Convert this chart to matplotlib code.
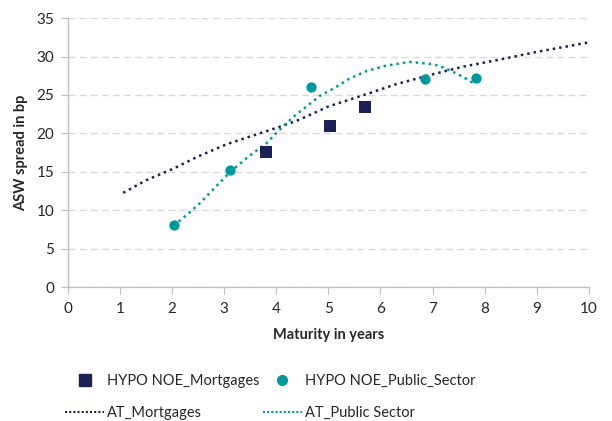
import matplotlib
matplotlib.use("Agg")
import matplotlib.pyplot as plt
from matplotlib.lines import Line2D

plt.rcParams['font.family'] = ['Lato', 'DejaVu Sans']

# HYPO NOE data points
mort_x = [3.81, 5.04, 5.71]
mort_y = [17.55, 21.0, 23.4]
pub_x = [2.03, 3.12, 4.66, 6.86, 7.84]
pub_y = [8.05, 15.2, 26.05, 27.05, 27.2]

# AT curves
at_mort_x = [1.06, 1.5, 2.02, 2.5, 3.05, 3.5, 4.13, 4.45, 5.0, 5.73, 6.3, 7.01, 7.6, 8.29, 9.0, 9.57, 9.97]
at_mort_y = [12.26, 13.9, 15.4, 17.0, 18.6, 19.6, 21.0, 21.8, 23.5, 25.1, 26.4, 27.7, 28.7, 29.6, 30.6, 31.3, 31.8]
at_pub_x = [2.03, 2.3, 2.53, 2.8, 3.12, 3.45, 3.81, 4.05, 4.32, 4.6, 4.84, 5.09, 5.4, 5.73, 6.1, 6.56, 7.01, 7.2, 7.4, 7.6, 7.79]
at_pub_y = [8.0, 9.5, 10.9, 12.8, 15.0, 16.9, 18.7, 20.4, 22.1, 23.6, 24.9, 25.8, 27.1, 28.1, 28.8, 29.3, 29.0, 28.6, 28.0, 27.3, 26.5]

xticks = list(range(0, 11))
yticks = list(range(0, 36, 5))

navy = '#1B2157'
teal = '#00999B'
grid_c = '#D9D9D9'
spine_c = '#BFBFBF'
txt_c = '#262626'

fig = plt.figure(figsize=(6.12, 4.21), dpi=100)
ax = fig.add_axes([0.111, 0.318, 0.851, 0.639])

ax.plot(at_mort_x, at_mort_y, linestyle=(0, (1, 1.6)), color=navy, lw=1.8, zorder=2)
ax.plot(at_pub_x, at_pub_y, linestyle=(0, (1, 1.6)), color=teal, lw=1.8, zorder=2)
ax.scatter(mort_x, mort_y, marker='s', s=70, color=navy, zorder=3, linewidths=0)
ax.scatter(pub_x, pub_y, marker='o', s=55, color=teal, zorder=3, linewidths=0)

ax.set_xlim(0, 10)
ax.set_ylim(0, 35)
ax.set_xticks(xticks)
ax.set_yticks(yticks)
ax.yaxis.grid(True, linestyle=(0, (5, 3)), color=grid_c, lw=1.0)
ax.set_axisbelow(True)
for s in ['top', 'right']:
    ax.spines[s].set_visible(False)
for s in ['left', 'bottom']:
    ax.spines[s].set_color(spine_c)
    ax.spines[s].set_linewidth(1.0)
ax.tick_params(axis='x', direction='out', length=5, color=spine_c, labelsize=11, pad=6, labelcolor=txt_c)
ax.tick_params(axis='y', direction='out', length=5, color=spine_c, labelsize=11, pad=5, labelcolor=txt_c)

ax.set_xlabel('Maturity in years', fontsize=10.5, fontweight='bold', labelpad=8, color=txt_c)
ax.set_ylabel('ASW spread in bp', fontsize=10.5, fontweight='bold', labelpad=6, color=txt_c)

handles = [
    Line2D([], [], marker='s', color=navy, linestyle='none', markersize=8),
    Line2D([], [], linestyle=(0, (1, 1.0)), color=navy, lw=1.5),
    Line2D([], [], marker='o', color=teal, linestyle='none', markersize=7),
    Line2D([], [], linestyle=(0, (1, 1.0)), color=teal, lw=1.5),
]
labels = ['HYPO NOE_Mortgages', 'AT_Mortgages', 'HYPO NOE_Public_Sector', 'AT_Public Sector']
fig.legend(handles, labels, loc='center left', bbox_to_anchor=(65 / 612, 1 - 397 / 421), ncol=2,
           frameon=False, borderpad=0, borderaxespad=0,
           fontsize=10.5, handlelength=2.7, columnspacing=0.2, labelspacing=1.25, handletextpad=0.2,
           labelcolor=txt_c)

fig.savefig('out.png', dpi=100)
